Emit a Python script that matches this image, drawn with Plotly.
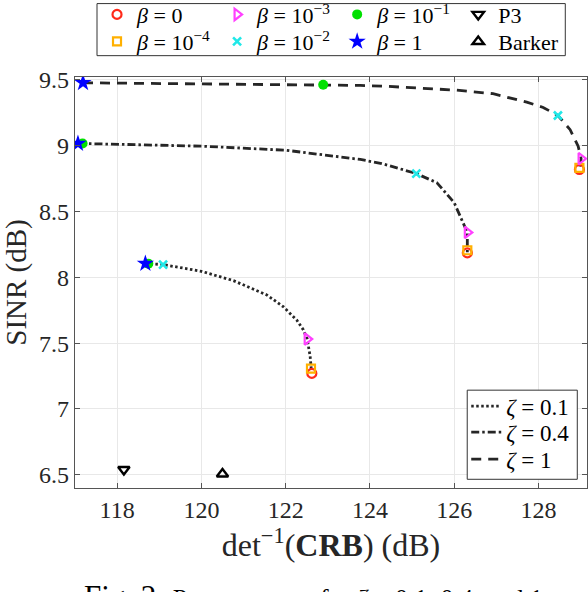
import plotly.graph_objects as go

# ---- data ----
# Pareto curves
z01_x = [118.67, 118.74, 119.09, 120.0, 120.76, 121.55, 121.94, 122.26, 122.42, 122.51, 122.58, 122.61]
z01_y = [8.104, 8.103, 8.096, 8.045, 7.974, 7.866, 7.777, 7.676, 7.60, 7.531, 7.40, 7.29]
z04_x = [117.07, 117.18, 120.0, 122.01, 123.77, 124.28, 125.10, 125.59, 126.0, 126.18, 126.31, 126.31]
z04_y = [9.015, 9.015, 8.995, 8.964, 8.894, 8.863, 8.787, 8.717, 8.565, 8.438, 8.34, 8.19]
z1_x = [117.19, 122.89, 123.77, 124.36, 126.06, 126.92, 127.72, 128.11, 128.46, 128.75, 128.94, 129.01, 128.97]
z1_y = [9.476, 9.461, 9.456, 9.45, 9.42, 9.393, 9.329, 9.289, 9.228, 9.12, 8.995, 8.90, 8.83]

# beta markers: [zeta=0.1, zeta=0.4, zeta=1]
b0_x = [122.62, 126.31, 128.97]
b0_y = [7.27, 8.185, 8.818]
b1e4_x = [122.60, 126.31, 128.97]
b1e4_y = [7.306, 8.205, 8.83]
b1e3_x = [122.51, 126.31, 129.01]
b1e3_y = [7.531, 8.34, 8.90]
b1e2_x = [119.09, 125.10, 128.46]
b1e2_y = [8.096, 8.787, 9.228]
b1e1_x = [118.74, 117.18, 122.89]
b1e1_y = [8.103, 9.015, 9.461]
b1_x = [118.67, 117.07, 117.19]
b1_y = [8.104, 9.015, 9.476]

p3_x = [118.16]
p3_y = [6.54]
barker_x = [120.5]
barker_y = [6.506]

xticks = [118, 120, 122, 124, 126, 128]
yticks = [6.5, 7, 7.5, 8, 8.5, 9, 9.5]

SERIF = "Liberation Serif"
LINEC = "#262626"
SP = " "

fig = go.Figure()

# curves (each with its own one-entry legend so rows can be placed exactly)
fig.add_trace(go.Scatter(x=z01_x, y=z01_y, mode="lines", name=f"<i>ζ</i>{SP}={SP}0.1",
                         line=dict(color=LINEC, width=2.8, dash="2.5px,2.5px"), legend="legend9"))
fig.add_trace(go.Scatter(x=z04_x, y=z04_y, mode="lines", name=f"<i>ζ</i>{SP}={SP}0.4",
                         line=dict(color=LINEC, width=2.8, dash="8px,3px,2.5px,3px"), legend="legend10"))
fig.add_trace(go.Scatter(x=z1_x, y=z1_y, mode="lines", name=f"<i>ζ</i>{SP}={SP}1",
                         line=dict(color=LINEC, width=2.8, dash="10px,7px"), legend="legend11"))

# markers
fig.add_trace(go.Scatter(x=b0_x, y=b0_y, mode="markers", name=f"<i>β</i>{SP}={SP}0",
                         marker=dict(symbol="circle-open", size=9, color="#ff2a1a", line=dict(width=2.2)),
                         legend="legend"))
fig.add_trace(go.Scatter(x=b1e4_x, y=b1e4_y, mode="markers", name=f"<i>β</i>{SP}={SP}10<sup>−4</sup>",
                         marker=dict(symbol="square-open", size=8, color="#ffb000", line=dict(width=2.2)),
                         legend="legend2"))
fig.add_trace(go.Scatter(x=b1e3_x, y=b1e3_y, mode="markers", name=f"<i>β</i>{SP}={SP}10<sup>−3</sup>",
                         marker=dict(symbol="triangle-right-open", size=10, color="#ff40ff", line=dict(width=2.2)),
                         legend="legend3"))
fig.add_trace(go.Scatter(x=b1e2_x, y=b1e2_y, mode="markers", name=f"<i>β</i>{SP}={SP}10<sup>−2</sup>",
                         marker=dict(symbol="x-thin-open", size=8, color="#20e8e8", line=dict(width=2.6)),
                         legend="legend4"))
fig.add_trace(go.Scatter(x=b1e1_x, y=b1e1_y, mode="markers", name=f"<i>β</i>{SP}={SP}10<sup>−1</sup>",
                         marker=dict(symbol="circle", size=10, color="#00e000"),
                         legend="legend5"))
fig.add_trace(go.Scatter(x=b1_x, y=b1_y, mode="markers", name=f"<i>β</i>{SP}={SP}1",
                         marker=dict(symbol="star", size=13, color="#0000ff"),
                         legend="legend6"))
fig.add_trace(go.Scatter(x=p3_x, y=p3_y, mode="markers", name="P3",
                         marker=dict(symbol="triangle-down-open", size=10, color="black", line=dict(width=2.4)),
                         legend="legend7"))
fig.add_trace(go.Scatter(x=barker_x, y=barker_y, mode="markers", name="Barker",
                         marker=dict(symbol="triangle-up-open", size=10, color="black", line=dict(width=2.4)),
                         legend="legend8"))

# layout geometry (page body margin is removed below, so page px == figure px)
W, H = 588, 592
PL, PR, PT, PB = 75, 586.7, 77.3, 487.7   # plot box in pixels
L, T, R, B = PL, PT, W - PR, H - PB
pw = PR - PL
ph = PB - PT


def px_x(p):
    return (p - PL) / pw


def px_y(p):
    return (PB - p) / ph


def one_leg(xpx, ypx, size=22):
    return dict(x=px_x(xpx), y=px_y(ypx), xanchor="left", yanchor="middle",
                bgcolor="rgba(0,0,0,0)", borderwidth=0,
                font=dict(family=SERIF, size=size, color="black"),
                orientation="v", tracegroupgap=0)


COLS = [97, 217, 337, 458]
ROWS = [15, 42]
ZROWS = [406, 432, 459]

legends = {}
names = ["legend", "legend2", "legend3", "legend4", "legend5", "legend6", "legend7", "legend8"]
k = 0
for c in COLS:
    for r in ROWS:
        legends[names[k]] = one_leg(c, r)
        k += 1
for i, r in enumerate(ZROWS):
    legends[f"legend{9 + i}"] = one_leg(466, r, 23)

fig.update_layout(
    width=W, height=H,
    margin=dict(l=L, r=R, t=T, b=B, autoexpand=False),
    paper_bgcolor="white", plot_bgcolor="white",
    font=dict(family=SERIF, size=20, color="black"),
    showlegend=True,
    **legends,
    shapes=[dict(type="rect", xref="paper", yref="paper",
                 x0=px_x(97), x1=px_x(565), y0=px_y(56), y1=px_y(4),
                 line=dict(color="#333333", width=1), fillcolor="white", layer="above"),
            dict(type="rect", xref="paper", yref="paper",
                 x0=px_x(467), x1=px_x(577), y0=px_y(479), y1=px_y(390),
                 line=dict(color="#333333", width=1), fillcolor="white", layer="above")],
    annotations=[dict(xref="paper", yref="paper", x=px_x(313), y=px_y(576.5),
                      xanchor="center", yanchor="top", showarrow=False,
                      text="Fig. 2: <span style='font-size:26px'>Pareto curves for <i>ζ</i> = 0.1, 0.4, and 1</span>",
                      font=dict(family=SERIF, size=31, color="black"))],
)

fig.update_xaxes(
    range=[117.0, 129.15], tickvals=xticks, ticktext=[str(v) for v in xticks],
    showgrid=True, gridcolor="#e8e8e8", gridwidth=1, zeroline=False,
    showline=True, linecolor="#555555", linewidth=1.3, mirror="ticks",
    ticks="inside", ticklen=5, tickcolor="#555555",
    tickfont=dict(family=SERIF, size=24, color="#262626"),
    title=dict(text="det<sup>−1</sup>(<b>CRB</b>) (dB)", font=dict(family=SERIF, size=32, color="#262626"), standoff=2),
)
fig.update_yaxes(
    range=[6.40, 9.52], tickvals=yticks, ticktext=["6.5", "7", "7.5", "8", "8.5", "9", "9.5"],
    showgrid=True, gridcolor="#e8e8e8", gridwidth=1, zeroline=False,
    showline=True, linecolor="#555555", linewidth=1.3, mirror="ticks",
    ticks="inside", ticklen=5, tickcolor="#555555",
    tickfont=dict(family=SERIF, size=24, color="#262626"),
    title=dict(text="SINR (dB)", font=dict(family=SERIF, size=29, color="#262626"), standoff=11),
)

fig.write_html("out.html", config={"displayModeBar": False},
               post_script="document.body.style.margin='0';document.body.style.overflow='hidden';")
